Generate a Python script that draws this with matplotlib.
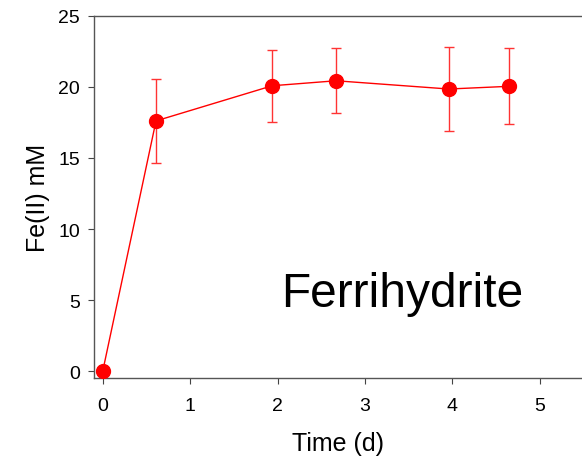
import matplotlib
matplotlib.use("Agg")
import matplotlib.pyplot as plt

time_d = [0.0, 0.61, 1.94, 2.67, 3.96, 4.65]
fe2_mM = [0.0, 17.6, 20.07, 20.42, 19.84, 20.03]
fe2_err = [0.0, 2.93, 2.53, 2.27, 2.94, 2.68]
x_ticks = [0, 1, 2, 3, 4, 5]
y_ticks = [0, 5, 10, 15, 20, 25]

plt.rcParams['font.family'] = ['Liberation Sans', 'DejaVu Sans']

fig = plt.figure(figsize=(5.82, 4.60), dpi=100)
ax = fig.add_axes([93.7/582, 1-379/460, (582-93.7)/582, (379-16.6)/460])

ax.errorbar(time_d, fe2_mM, yerr=fe2_err, color='#ff0000', lw=1.0,
            marker='o', markersize=10, ecolor='#ff3333', elinewidth=1.0,
            capsize=3.8, capthick=1.0, zorder=3)

ax.set_xlim(-0.103, 5.484)
ax.set_ylim(-0.47, 25)
ax.set_xticks(x_ticks)
ax.set_yticks(y_ticks)
ax.tick_params(direction='out', length=4, width=0.8, colors='#444444',
               labelcolor='black', labelsize=14, pad=6)
ax.tick_params(axis='x', pad=10)
for s in ['left', 'bottom', 'top']:
    ax.spines[s].set_color('#555555')
    ax.spines[s].set_linewidth(1.0)
ax.spines['right'].set_visible(False)

ax.set_xlabel('Time (d)', fontsize=18, labelpad=12)
ax.set_ylabel('Fe(II) mM', fontsize=18, labelpad=6)

ax.text(2.04, 5.5, 'Ferrihydrite', fontsize=34.5, ha='left', va='center')

fig.savefig('out.png', dpi=100)
